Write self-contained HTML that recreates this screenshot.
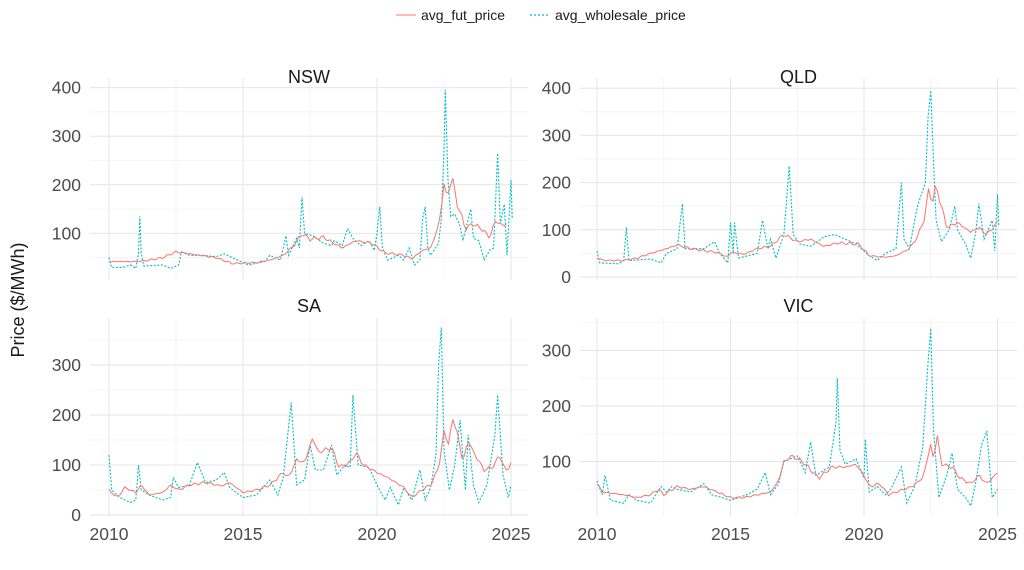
<!DOCTYPE html>
<html><head><meta charset="utf-8"><style>
html,body{margin:0;padding:0;background:#fff;}
svg{display:block;font-family:"Liberation Sans",sans-serif;}
</style></head><body>
<svg id="s" width="1024" height="570" viewBox="0 0 1024 570" xmlns="http://www.w3.org/2000/svg">
<rect width="1024" height="570" fill="#fff"/>
<g id="g"></g>
<line x1="396" y1="15" x2="416" y2="15" stroke="#F8766D" stroke-width="1"/>
<text x="421" y="20" font-size="14" fill="#1a1a1a">avg_fut_price</text>
<line x1="530" y1="15" x2="550" y2="15" stroke="#00BFC4" stroke-width="1.2" stroke-dasharray="2,2"/>
<text x="555" y="20" font-size="14" fill="#1a1a1a">avg_wholesale_price</text>
<text transform="translate(24,300) rotate(-90)" text-anchor="middle" font-size="18" fill="#1a1a1a">Price ($/MWh)</text>
</svg>
<script>
var P=[
{t:"NSW",x0:90,x1:528,y0:78,y1:280,ty:83,zero:282,k:0.486,yx:109,ppy:26.8,ticks:[100,200,300,400],minor:[50,150,250,350],xl:false,
f:[2010,42,2011,42,2011.5,45,2012,50,2012.5,62,2013,58,2014,50,2014.6,38,2015.5,40,2016,45,2016.5,55,2016.9,75,2017.2,100,2017.5,88,2018,92,2018.7,70,2019.2,85,2019.8,80,2020.3,60,2021,55,2021.3,48,2021.7,65,2022,70,2022.3,115,2022.5,200,2022.6,175,2022.8,215,2023,160,2023.3,110,2023.6,120,2024,105,2024.2,90,2024.4,125,2024.8,115,2024.9,128],
w:[2010,50,2010.1,30,2010.5,30,2010.8,35,2011,28,2011.1,60,2011.15,135,2011.2,60,2011.3,33,2012,35,2012.3,28,2012.6,35,2012.7,62,2013,55,2013.5,55,2014,52,2014.3,58,2014.8,45,2015.2,35,2015.8,42,2016,55,2016.4,45,2016.6,95,2016.7,55,2017,90,2017.1,70,2017.2,175,2017.3,100,2017.6,95,2018,80,2018.3,75,2018.4,85,2018.7,75,2018.9,110,2019.1,90,2019.4,75,2019.7,85,2019.9,65,2020,100,2020.1,155,2020.2,70,2020.4,45,2020.8,55,2021,45,2021.2,70,2021.4,35,2021.6,45,2021.7,130,2021.8,155,2021.9,70,2022,55,2022.3,80,2022.4,130,2022.5,270,2022.55,395,2022.65,210,2022.75,135,2022.9,140,2023.1,115,2023.2,85,2023.5,150,2023.6,90,2023.8,85,2024,45,2024.2,65,2024.35,70,2024.5,265,2024.6,120,2024.75,160,2024.85,55,2025,210,2025.05,130]},
{t:"QLD",x0:580,x1:1017,y0:78,y1:280,ty:83,zero:277,k:0.472,yx:597,ppy:26.7,ticks:[0,100,200,300,400],minor:[50,150,250,350],xl:false,
f:[2010,40,2010.3,35,2011,35,2011.5,40,2012,50,2012.5,58,2013,68,2013.5,60,2014.5,52,2014.9,42,2015,52,2015.5,48,2016,60,2016.5,65,2017,90,2017.5,75,2018,80,2018.5,65,2019,72,2019.8,70,2020.2,45,2020.8,42,2021.2,45,2021.7,60,2022,85,2022.3,130,2022.4,185,2022.6,160,2022.7,195,2022.9,150,2023.1,105,2023.5,115,2024,95,2024.3,105,2024.6,90,2025,115],
w:[2010,55,2010.1,30,2010.8,28,2011,35,2011.1,105,2011.2,35,2012,38,2012.4,30,2012.6,50,2013,60,2013.2,155,2013.3,60,2014,60,2014.4,75,2014.6,50,2014.9,30,2015,115,2015.1,50,2015.15,115,2015.3,40,2016,50,2016.2,120,2016.4,60,2016.5,80,2016.7,40,2017,90,2017.2,235,2017.35,90,2017.6,70,2018,65,2018.5,85,2018.9,90,2019.3,80,2019.7,70,2020.2,45,2020.5,35,2020.8,50,2021.2,60,2021.4,200,2021.5,80,2021.7,60,2022,150,2022.3,200,2022.4,340,2022.5,395,2022.6,250,2022.7,120,2022.9,75,2023.2,100,2023.4,150,2023.5,100,2023.8,70,2024,40,2024.2,100,2024.3,155,2024.5,80,2024.8,120,2024.9,55,2025,175,2025.05,110]},
{t:"SA",x0:90,x1:528,y0:318,y1:516,ty:312,zero:515,k:0.5,yx:109,ppy:26.8,ticks:[0,100,200,300],minor:[50,150,250,350],xl:true,
f:[2010,50,2010.3,35,2010.6,55,2011,45,2011.2,60,2011.5,40,2012,45,2012.3,60,2012.6,50,2013,60,2013.6,65,2014.2,58,2014.5,65,2015,45,2015.5,50,2016,60,2016.5,85,2016.7,75,2017,110,2017.3,105,2017.6,155,2017.8,125,2018.3,135,2018.6,95,2019,105,2019.2,125,2019.5,100,2020,85,2020.4,75,2021,55,2021.3,35,2021.8,55,2022,60,2022.3,95,2022.5,165,2022.7,140,2022.8,195,2023,165,2023.2,105,2023.4,150,2023.6,125,2024,90,2024.3,95,2024.6,120,2024.8,85,2025,105],
w:[2010,120,2010.1,50,2010.4,35,2010.8,25,2011,30,2011.1,100,2011.2,50,2011.5,40,2012,30,2012.3,35,2012.4,75,2012.6,55,2013,60,2013.3,105,2013.6,65,2014,70,2014.3,85,2014.5,55,2015,35,2015.5,40,2016,70,2016.3,40,2016.5,75,2016.8,225,2017,60,2017.3,70,2017.5,140,2017.7,90,2018,90,2018.3,140,2018.5,80,2018.8,100,2019,95,2019.1,240,2019.3,100,2019.7,95,2020,60,2020.3,30,2020.5,55,2020.8,20,2021,55,2021.3,30,2021.6,90,2021.8,30,2022,55,2022.2,120,2022.3,300,2022.4,375,2022.5,130,2022.7,50,2022.9,100,2023.1,190,2023.3,50,2023.4,160,2023.6,60,2023.8,25,2024.1,60,2024.4,160,2024.5,240,2024.7,80,2024.9,35,2025,60]},
{t:"VIC",x0:580,x1:1017,y0:318,y1:516,ty:312,zero:517,k:0.555,yx:597,ppy:26.7,ticks:[100,200,300],minor:[50,150,250,350],xl:true,
f:[2010,60,2010.2,45,2011,40,2011.5,35,2012,40,2012.3,50,2012.5,40,2013,55,2013.5,50,2014,55,2014.5,45,2015,35,2015.5,35,2016,40,2016.5,45,2016.8,65,2017,100,2017.3,110,2017.7,100,2018.1,80,2018.3,70,2018.8,90,2019.3,90,2019.7,95,2020,75,2020.2,55,2020.6,60,2020.9,40,2021.5,50,2021.8,55,2022.2,70,2022.5,130,2022.6,105,2022.75,145,2022.9,95,2023.3,90,2023.6,70,2024,60,2024.3,75,2024.6,60,2025,80],
w:[2010,65,2010.2,40,2010.3,75,2010.5,30,2011,25,2011.2,40,2011.5,30,2012,25,2012.4,55,2012.6,45,2012.8,55,2013,50,2013.5,45,2014,60,2014.3,40,2014.7,35,2015,30,2015.6,40,2016,50,2016.3,80,2016.5,40,2016.8,60,2017,100,2017.5,110,2017.8,80,2018,135,2018.2,75,2018.7,90,2018.95,170,2019,250,2019.1,120,2019.3,95,2019.7,105,2020,70,2020.05,140,2020.2,45,2020.5,55,2020.8,40,2021,50,2021.4,90,2021.6,25,2021.9,55,2022.2,125,2022.4,280,2022.5,340,2022.6,160,2022.8,35,2023.1,75,2023.3,115,2023.5,50,2023.8,35,2024,20,2024.2,65,2024.4,130,2024.6,155,2024.8,35,2025,50]}
];
var h="";
function resample(a,seed){
 var out=[];var last=a[a.length-2];
 for(var t=2010;t<=last+1e-6;t+=1/12){
  var i=0;while(i+2<a.length-2&&a[i+2]<t)i+=2;
  var x0=a[i],v0=a[i+1],x1=a[i+2],v1=a[i+3];
  var r=(x1>x0)?Math.min(1,Math.max(0,(t-x0)/(x1-x0))):0;
  var v=v0+(v1-v0)*r;
  var n=Math.sin(t*53.7+seed)*0.6+Math.sin(t*131.3+seed*2)*0.4;
  v*=1+0.045*n;
  out.push(t,v);
 }
 return out;
}
P.forEach(function(p,pi){
 function X(y){return p.yx+(y-2010)*p.ppy;}
 function Y(v){return p.zero-v*p.k;}
 [2012.5,2017.5,2022.5].forEach(function(y){h+='<line x1="'+X(y)+'" x2="'+X(y)+'" y1="'+p.y0+'" y2="'+p.y1+'" stroke="#f2f2f2" stroke-width="0.8"/>';});
 p.minor.forEach(function(v){var y=Y(v);if(y>=p.y0&&y<=p.y1)h+='<line x1="'+p.x0+'" x2="'+p.x1+'" y1="'+y+'" y2="'+y+'" stroke="#f2f2f2" stroke-width="0.8"/>';});
 [2010,2015,2020,2025].forEach(function(y){h+='<line x1="'+X(y)+'" x2="'+X(y)+'" y1="'+p.y0+'" y2="'+p.y1+'" stroke="#e6e6e6" stroke-width="1"/>';
  if(p.xl)h+='<text x="'+X(y)+'" y="540" text-anchor="middle" font-size="17.5" fill="#4d4d4d">'+y+'</text>';});
 p.ticks.forEach(function(v){var y=Y(v);h+='<line x1="'+p.x0+'" x2="'+p.x1+'" y1="'+y+'" y2="'+y+'" stroke="#e6e6e6" stroke-width="1"/>';
  h+='<text x="'+(p.x0-9)+'" y="'+(y+6)+'" text-anchor="end" font-size="17.5" fill="#4d4d4d">'+v+'</text>';});
 h+='<text x="'+((p.x0+p.x1)/2)+'" y="'+p.ty+'" text-anchor="middle" font-size="18" fill="#1a1a1a">'+p.t+'</text>';
 function path(a){var s="";for(var i=0;i<a.length;i+=2){s+=(i?"L":"M")+X(a[i]).toFixed(1)+","+Y(a[i+1]).toFixed(1);}return s;}
 h+='<path d="'+path(p.w)+'" fill="none" stroke="#00BFC4" stroke-width="1.1" stroke-dasharray="2,1.6"/>';
 h+='<path d="'+path(resample(p.f,pi*1.7))+'" fill="none" stroke="#F8766D" stroke-width="1"/>';
});
document.getElementById("g").innerHTML=h;
</script>
</body></html>
